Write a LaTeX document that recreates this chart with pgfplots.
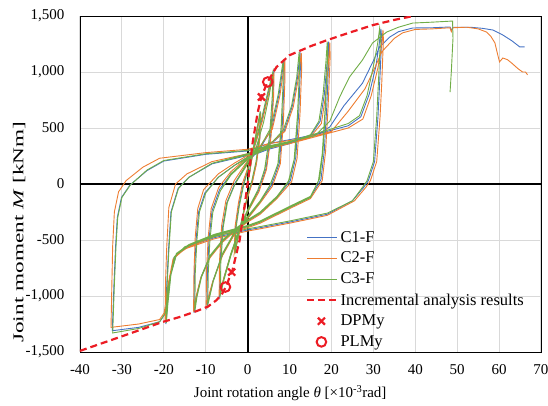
\documentclass[border=0pt]{standalone}
\usepackage{fontspec}
\setmainfont{Liberation Serif}
\usepackage{graphicx}
\usepackage{pgfplots}
\pgfplotsset{compat=1.18}
\definecolor{cblue}{HTML}{4472C4}
\definecolor{corange}{HTML}{ED7D31}
\definecolor{cgreen}{HTML}{70AD47}
\definecolor{cred}{RGB}{236,28,36}
\definecolor{gridgray}{HTML}{D9D9D9}

\pgfplotsset{
  linelegend/.style={legend image code/.code={\draw[##1] (0pt,0pt) -- (30pt,0pt);}},
  marklegend/.style={legend image code/.code={\draw[##1] plot coordinates {(14pt,0pt)};}},
}

\begin{document}
\begin{tikzpicture}[font=\fontsize{15}{18}\selectfont]
\useasboundingbox (-80pt,-53pt) rectangle (468pt,352pt);
\begin{axis}[
  at={(0,0)}, anchor=south west,
  scale only axis, width=461pt, height=336pt,
  xmin=-40, xmax=70, ymin=-1500, ymax=1500,
  xtick={-40,-30,...,70}, ytick={-1500,-1000,...,1500},
  xticklabels={-40,-30,-20,-10,0,10,20,30,40,50,60,70},
  yticklabels={{-1,500},{-1,000},-500,0,500,{1,000},{1,500}},
  major tick length=0pt,
  grid=major, grid style={gridgray, line width=1pt},
  axis line style={black, line width=0.9pt},
  xticklabel style={yshift=-9pt},
  yticklabel style={xshift=-12pt},
  xlabel={Joint rotation angle \textit{θ} [×10\textsuperscript{-3}rad]},
  ylabel={\scalebox{1.55}[1]{Joint moment \textit{M} [kNm]}},
  xlabel style={at={(axis description cs:0.456,-0.122)}, anchor=center},
  ylabel style={at={(axis description cs:-0.132,0.357)}, anchor=center},
  legend style={at={(axis description cs:0.484,0.372)}, anchor=north west,
    draw=none, fill=none, font=\fontsize{16.5}{19}\selectfont, row sep=4.4pt},
  legend cell align=left,
]
\draw[black, line width=2pt] (axis cs:0,-1500) -- (axis cs:0,1500);
\draw[black, line width=2pt] (axis cs:-40,0) -- (axis cs:70,0);

% C1-F
\addplot[cblue, line width=0.9pt, linelegend] coordinates {
(0,0)(1.5,340)(3.1,640)(2.9,410)(2.1,190)(1.1,20)(0,-110)(-1,-260)(-2,-430)(-3.1,-610)
(-2.9,-390)(-2.1,-190)(-1.1,-10)(0,120)(1,250)(2.1,390)(3.4,570)(4.9,810)(6.2,1000)
(6.1,790)(5.5,440)(4.4,140)(2.6,-60)(0,-240)(-2,-410)(-4,-630)(-5.6,-830)(-6.7,-1000)
(-6.6,-700)(-6,-390)(-5,-170)(-3,10)(0,190)(3,320)(5.7,490)(7.5,800)(8.7,1110)
(8.7,940)(8.3,540)(7.6,190)(5.7,-10)(3,-160)(0,-300)(-3,-430)(-6,-630)(-8.3,-870)(-9.7,-1090)
(-9.6,-790)(-9.2,-490)(-8.5,-240)(-6.7,-50)(-4,90)(0,220)(3,300)(6,370)(8.7,470)(10.7,700)(11.9,950)(12.5,1180)
(12.6,1050)(12.2,640)(11.5,240)(10.2,30)(7,-120)(3,-260)(0,-330)(-3,-410)(-6,-510)(-9,-650)(-11.1,-830)(-12.3,-1010)(-12.8,-1150)
(-12.7,-800)(-12.3,-500)(-11.7,-250)(-10.2,-80)(-7,60)(-3,170)(0,240)(5,310)(10,360)(15,430)(17.3,560)(18.3,800)(19,1100)(19.3,1270)
(19.4,1150)(18.9,700)(18.3,300)(17.5,40)(15,-120)(10,-210)(3,-340)(0,-380)(-8,-460)(-14,-550)(-17,-630)(-18.4,-810)(-19.1,-1060)(-19.5,-1250)
(-19.3,-900)(-18.9,-600)(-18.3,-250)(-16.6,-40)(-14,60)(-8.5,180)(0,255)(3,310)(10,370)(19,470)(24,520)(27,600)(29,800)(30.6,1050)(31.4,1250)(31.8,1385)
(32,1300)(31.5,900)(31.1,600)(30.3,200)(28.8,30)(27.7,-30)(25,-150)(19,-270)(10,-340)(3,-390)(0,-410)(-8,-480)(-15,-570)(-17.6,-660)(-18.9,-910)(-19.7,-1160)(-21,-1230)(-26,-1280)(-32.3,-1310)
(-31.9,-900)(-31.5,-550)(-31.1,-300)(-30.1,-120)(-28.1,-10)(-24,120)(-20,205)(-10,265)(0,295)(5,360)(12,410)(17,450)(19.6,509)(23,700)(27.4,900)(30,1100)(31.5,1223)(33.9,1312)(36,1360)(39.4,1393)(44,1395)(48.3,1402)(48.6,1370)(49,1400)(53,1400)(56,1390)(58.5,1375)(60.9,1330)(63,1280)(64.9,1225)(66.1,1225)
};
\addlegendentry{C1-F}

% C2-F
\addplot[corange, line width=0.9pt, linelegend] coordinates {
(0,0)(1.5,330)(3.1,630)(2.9,400)(2.1,180)(1.1,10)(0,-120)(-1,-270)(-2,-440)(-3.2,-620)
(-3,-380)(-2.2,-170)(-1.2,10)(0,140)(1,270)(2.2,400)(3.5,560)(5,800)(6.3,990)
(6.2,780)(5.6,430)(4.5,130)(2.7,-70)(0,-250)(-2.1,-420)(-4.1,-640)(-5.7,-840)(-6.8,-990)
(-6.7,-680)(-6.2,-370)(-5.2,-150)(-3.2,30)(0,210)(3,340)(5.9,490)(7.7,790)(8.9,1100)
(8.9,930)(8.5,530)(7.8,180)(5.9,-20)(3,-170)(0,-310)(-3,-440)(-6,-640)(-8.4,-880)(-9.9,-1080)
(-9.8,-770)(-9.4,-470)(-8.7,-220)(-6.9,-30)(-4,110)(0,240)(3,310)(6,380)(8.9,470)(10.9,690)(12.1,940)(12.8,1170)
(12.9,1040)(12.5,630)(11.8,230)(10.5,20)(7,-130)(3,-270)(0,-340)(-3,-420)(-6,-520)(-9,-660)(-11.2,-840)(-12.4,-1020)(-12.9,-1140)
(-12.8,-780)(-12.5,-470)(-11.9,-220)(-10.5,-50)(-7,90)(-3,190)(0,255)(5,320)(10,360)(15,420)(17.6,540)(18.6,790)(19.3,1090)(19.6,1265)
(19.7,1140)(19.2,690)(18.6,290)(17.8,30)(15,-130)(10,-220)(3,-350)(0,-390)(-8,-470)(-14,-560)(-17.2,-640)(-18.6,-820)(-19.3,-1070)(-19.7,-1230)
(-19.6,-880)(-19.3,-560)(-18.8,-210)(-17.2,0)(-14.5,90)(-8.5,200)(0,270)(3,310)(10,360)(19,450)(24,500)(27.5,580)(29.5,790)(31.1,1040)(32,1250)(32.3,1375)
(32.4,1290)(32,900)(31.6,600)(30.8,200)(29.3,30)(28.2,-30)(25.5,-150)(19,-280)(10,-350)(3,-400)(0,-420)(-8,-490)(-15,-580)(-17.8,-670)(-19.1,-920)(-19.9,-1150)(-21,-1210)(-26,-1250)(-32.6,-1280)
(-32.4,-900)(-32.2,-550)(-31.8,-250)(-30.8,-70)(-29,30)(-25,150)(-21,230)(-10,280)(0,310)(5,360)(12,400)(17,440)(20,470)(24,650)(28,850)(30.5,1050)(32,1180)(35,1300)(37,1350)(40,1380)(44,1385)(48.3,1395)(48.6,1360)(49,1395)(52.3,1400)(55,1385)(57,1357)(58,1320)(59,1260)(59.7,1150)(60.1,1090)(60.9,1125)(62,1110)(63,1080)(64.5,1030)(65.6,1000)(66.3,1000)(66.8,975)
};
\addlegendentry{C2-F}

% C3-F
\addplot[cgreen, line width=0.9pt, linelegend] coordinates {
(0,0)(1.5,350)(3,650)(2.8,420)(2,200)(1,30)(0,-100)(-1,-250)(-2,-420)(-3,-620)
(-2.8,-400)(-2,-200)(-1,-20)(0,120)(1,260)(2,400)(3.3,580)(4.8,820)(6,1000)
(5.9,800)(5.3,450)(4.2,150)(2.5,-50)(0,-230)(-2,-400)(-4,-620)(-5.5,-820)(-6.5,-990)
(-6.4,-700)(-5.9,-400)(-5,-180)(-3,0)(0,180)(2,320)(3.8,550)(5.2,800)(6,1000)
(5.9,780)(5.2,420)(4,120)(2.2,-80)(0,-250)(-2,-420)(-4,-640)(-5.6,-850)(-6.5,-990)
(-6.4,-700)(-5.8,-380)(-4.8,-160)(-3,0)(0,200)(3,330)(5.5,500)(7.3,800)(8.5,1110)
(8.5,950)(8.1,550)(7.4,200)(5.5,0)(3,-150)(0,-290)(-3,-420)(-6,-620)(-8.2,-860)(-9.5,-1080)
(-9.4,-800)(-9,-500)(-8.3,-250)(-6.5,-60)(-4,90)(0,230)(3,330)(5.5,500)(7.3,800)(8.5,1110)
(8.5,930)(8,520)(7.2,170)(5.2,-20)(3,-160)(0,-300)(-3,-430)(-6,-630)(-8.2,-870)(-9.5,-1080)
(-9.4,-800)(-9,-500)(-8.3,-250)(-6.5,-60)(-4,80)(0,220)(3,300)(6,380)(8.5,480)(10.5,700)(11.7,950)(12.3,1180)
(12.4,1050)(12,650)(11.3,250)(10,40)(7,-110)(3,-250)(0,-320)(-3,-400)(-6,-500)(-9,-640)(-11,-820)(-12.1,-1000)(-12.6,-1140)
(-12.5,-800)(-12.1,-500)(-11.5,-250)(-10,-80)(-7,60)(-3,170)(0,230)(3,300)(6,380)(8.5,480)(10.5,700)(11.7,950)(12.3,1180)
(12.4,1040)(11.9,620)(11.1,220)(9.7,20)(7,-120)(3,-260)(0,-330)(-3,-410)(-6,-510)(-9,-650)(-11,-830)(-12.1,-1010)(-12.6,-1140)
(-12.5,-800)(-12.1,-500)(-11.5,-250)(-10,-80)(-7,60)(-3,170)(0,240)(5,320)(10,370)(15,440)(17,560)(18,800)(18.7,1100)(19,1270)
(19.1,1150)(18.6,700)(18,300)(17.2,50)(15,-110)(10,-200)(3,-330)(0,-370)(-8,-450)(-14,-540)(-17,-620)(-18.3,-800)(-19,-1050)(-19.4,-1240)
(-19.2,-900)(-18.8,-600)(-18.2,-250)(-16.5,-40)(-14,60)(-8.5,185)(0,260)(5,330)(10,370)(15,440)(17,560)(18,800)(18.7,1100)(19,1270)
(19.1,1140)(18.5,680)(17.8,270)(16.9,30)(15,-120)(10,-210)(3,-340)(0,-380)(-8,-460)(-14,-550)(-17,-630)(-18.3,-810)(-19,-1060)(-19.4,-1240)
(-19.2,-900)(-18.8,-600)(-18.2,-250)(-16.5,-40)(-14,60)(-8.5,185)(0,270)(3,320)(10,380)(19,480)(24,540)(26.7,610)(28.5,790)(30,1050)(31,1250)(31.5,1390)
(31.7,1300)(31.2,900)(30.8,600)(30,200)(28.5,30)(27.4,-30)(25,-150)(19,-260)(10,-330)(3,-380)(0,-400)(-8,-470)(-15,-560)(-17.5,-650)(-18.8,-900)(-19.6,-1150)(-21,-1230)(-26,-1290)(-32.2,-1330)
(-31.8,-900)(-31.4,-550)(-31,-300)(-30,-120)(-28,-10)(-24,125)(-20,210)(-10,270)(0,300)(10,380)(16,430)(19.6,560)(22,780)(24.3,955)(27.4,1107)(29.8,1259)(33.2,1357)(36,1400)(39.4,1437)(44,1445)(48.9,1455)(49,1300)(48.6,1000)(48.3,820)
};
\addlegendentry{C3-F}

% incremental analysis
\addplot[cred, line width=2.2pt, dash pattern=on 7pt off 4pt, linelegend] coordinates {
(-40,-1490)(-30,-1360)(-20.3,-1232)(-16,-1185)(-12.2,-1135)(-9.5,-1095)(-7.4,-1036)(-6,-975)(-5,-905)(-4.3,-830)(-3.6,-768)(-1.9,-500)(0,0)
(1.2,370)(2.4,640)(3.3,780)(4.8,915)(6.9,1045)(10,1150)(15,1230)(19,1285)(25,1360)(30,1420)(35,1465)(39.5,1500)
};
\addlegendentry{Incremental analysis results}

\addplot[only marks, cred, mark=x, mark size=5pt, mark options={line width=2.2pt}, marklegend] coordinates {
(3.3,777)(-3.8,-786)
};
\addlegendentry{DPMy}

\addplot[only marks, cred, mark=o, mark size=4.8pt, mark options={line width=2pt}, marklegend] coordinates {
(4.8,911)(-5.3,-920)
};
\addlegendentry{PLMy}
\end{axis}
\end{tikzpicture}
\end{document}
